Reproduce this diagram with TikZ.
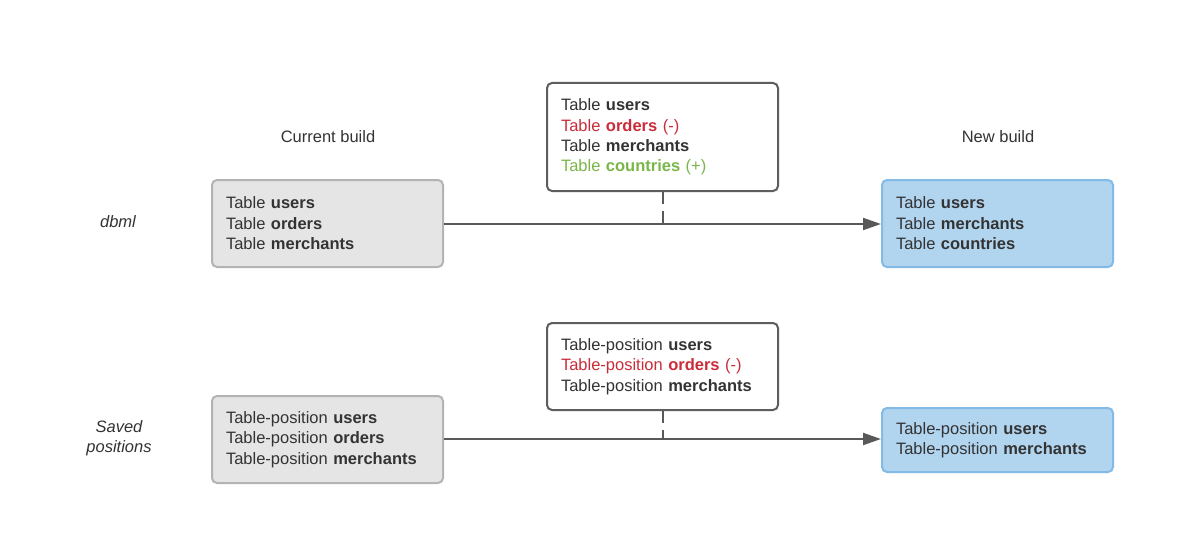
\documentclass[tikz,border=0pt]{standalone}
\usepackage{fontspec}
\setmainfont{Liberation Sans}
\usetikzlibrary{arrows.meta}
\definecolor{txt}{HTML}{333333}
\definecolor{redc}{HTML}{C92D39}
\definecolor{greenc}{HTML}{7AB648}
\definecolor{grayfill}{HTML}{E5E5E5}
\definecolor{grayline}{HTML}{B3B3B3}
\definecolor{bluefill}{HTML}{B1D4EF}
\definecolor{blueline}{HTML}{84BAE6}
\definecolor{darkline}{HTML}{5E5E5E}
\definecolor{arrowc}{HTML}{595959}
\tikzset{
  base/.style={rounded corners=5pt, line width=2pt, minimum width=231pt, text width=203pt,
    inner xsep=14pt, align=left, text=txt, font=\fontsize{16.5}{20.4}\selectfont},
  oldbox/.style={base, draw=grayline, fill=grayfill},
  newbox/.style={base, draw=blueline, fill=bluefill},
  chbox/.style={base, draw=darkline, fill=white},
  lbl/.style={text=txt, font=\fontsize{16.5}{20.4}\selectfont, align=center},
  conn/.style={line width=2pt, draw=arrowc, -{Triangle[length=18pt,width=12pt]}},
  dashc/.style={line width=2pt, draw=arrowc, dash pattern=on 12pt off 7pt}
}
\begin{document}
\begin{tikzpicture}[x=1pt,y=-1pt]
\useasboundingbox[fill=white] (0,0) rectangle (1202,559);
\node[lbl] (cur) at (328,137) {Current build};
\node[lbl] (new) at (998,137) {New build};
\node[lbl, font=\fontsize{16.5}{20.4}\selectfont\itshape] (dbml) at (118,222) {dbml};
\node[lbl, font=\fontsize{16.5}{20.4}\selectfont\itshape] (saved) at (119,438) {Saved\\positions};

\node[oldbox, minimum height=87pt] (a1) at (327.5,223.5) {Table \textbf{users}\\Table \textbf{orders}\\Table \textbf{merchants}};
\node[newbox, minimum height=87pt] (b1) at (997.5,223.5) {Table \textbf{users}\\Table \textbf{merchants}\\Table \textbf{countries}};
\node[chbox, minimum height=108pt] (c1) at (662.5,137) {Table \textbf{users}\\\textcolor{redc}{Table \textbf{orders} (-)}\\Table \textbf{merchants}\\\textcolor{greenc}{Table \textbf{countries} (+)}};

\node[oldbox, minimum height=87pt] (a2) at (327.5,439.5) {Table-position \textbf{users}\\Table-position \textbf{orders}\\Table-position \textbf{merchants}};
\node[newbox, minimum height=64pt] (b2) at (997.5,440) {Table-position \textbf{users}\\Table-position \textbf{merchants}};
\node[chbox, minimum height=87pt] (c2) at (662.5,366.5) {Table-position \textbf{users}\\\textcolor{redc}{Table-position \textbf{orders} (-)}\\Table-position \textbf{merchants}};

\draw[conn] (a1.east |- 0,224) coordinate (s1) -- (b1.west |- 0,224);
\draw[conn] (a2.east |- 0,439) coordinate (s2) -- (b2.west |- 0,439);
\draw[dashc] (c1.south) -- (c1.south |- s1);
\draw[dashc] (c2.south) -- (c2.south |- s2);
\end{tikzpicture}
\end{document}
